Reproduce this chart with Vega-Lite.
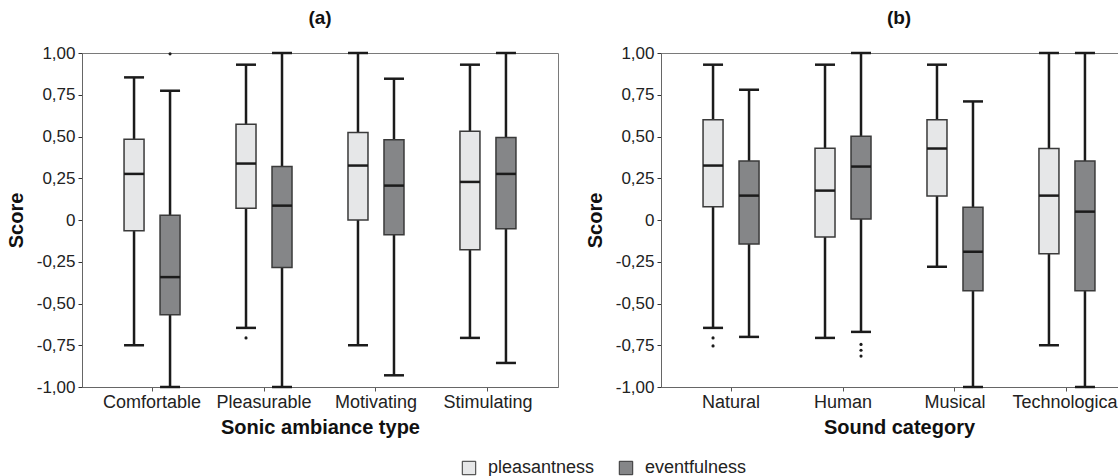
{
  "$schema": "https://vega.github.io/schema/vega-lite/v6.json",
  "padding": {"left": 5, "top": 8, "right": 5, "bottom": 4},
  "datasets": {
    "box_a": [
      {"category": "Comfortable", "measure": "pleasantness", "min": -0.75, "q1": -0.065, "median": 0.276, "q3": 0.484, "max": 0.854},
      {"category": "Comfortable", "measure": "eventfulness", "min": -1.0, "q1": -0.568, "median": -0.342, "q3": 0.028, "max": 0.774},
      {"category": "Pleasurable", "measure": "pleasantness", "min": -0.646, "q1": 0.07, "median": 0.338, "q3": 0.574, "max": 0.93},
      {"category": "Pleasurable", "measure": "eventfulness", "min": -1.0, "q1": -0.284, "median": 0.086, "q3": 0.32, "max": 1.0},
      {"category": "Motivating", "measure": "pleasantness", "min": -0.75, "q1": 0.0, "median": 0.326, "q3": 0.524, "max": 1.0},
      {"category": "Motivating", "measure": "eventfulness", "min": -0.93, "q1": -0.088, "median": 0.206, "q3": 0.48, "max": 0.846},
      {"category": "Stimulating", "measure": "pleasantness", "min": -0.706, "q1": -0.178, "median": 0.228, "q3": 0.532, "max": 0.93},
      {"category": "Stimulating", "measure": "eventfulness", "min": -0.856, "q1": -0.052, "median": 0.276, "q3": 0.494, "max": 1.0}
    ],
    "out_a": [
      {"category": "Comfortable", "measure": "eventfulness", "value": 0.995},
      {"category": "Pleasurable", "measure": "pleasantness", "value": -0.706}
    ],
    "box_b": [
      {"category": "Natural", "measure": "pleasantness", "min": -0.646, "q1": 0.08, "median": 0.326, "q3": 0.6, "max": 0.93},
      {"category": "Natural", "measure": "eventfulness", "min": -0.7, "q1": -0.144, "median": 0.146, "q3": 0.354, "max": 0.78},
      {"category": "Human", "measure": "pleasantness", "min": -0.706, "q1": -0.102, "median": 0.176, "q3": 0.43, "max": 0.93},
      {"category": "Human", "measure": "eventfulness", "min": -0.67, "q1": 0.006, "median": 0.32, "q3": 0.502, "max": 1.0},
      {"category": "Musical", "measure": "pleasantness", "min": -0.28, "q1": 0.144, "median": 0.428, "q3": 0.6, "max": 0.93},
      {"category": "Musical", "measure": "eventfulness", "min": -1.0, "q1": -0.424, "median": -0.19, "q3": 0.076, "max": 0.71},
      {"category": "Technological", "measure": "pleasantness", "min": -0.75, "q1": -0.202, "median": 0.146, "q3": 0.428, "max": 1.0},
      {"category": "Technological", "measure": "eventfulness", "min": -1.0, "q1": -0.424, "median": 0.05, "q3": 0.354, "max": 1.0}
    ],
    "out_b": [
      {"category": "Natural", "measure": "pleasantness", "value": -0.706},
      {"category": "Natural", "measure": "pleasantness", "value": -0.754},
      {"category": "Human", "measure": "eventfulness", "value": -0.745},
      {"category": "Human", "measure": "eventfulness", "value": -0.78},
      {"category": "Human", "measure": "eventfulness", "value": -0.815}
    ]
  },
  "config": {
    "font": "Liberation Sans",
    "view": {"stroke": "#7a7a7a", "strokeWidth": 1},
    "axis": {"grid": false, "domainColor": "#666666", "tickColor": "#555555", "labelColor": "#222222", "titleColor": "#111111", "labelFont": "Liberation Sans", "titleFont": "Liberation Sans", "titleFontWeight": "bold"},
    "axisX": {"labelFontSize": 18, "labelAngle": 0, "tickSize": 4, "labelPadding": 2, "titleFontSize": 20, "titlePadding": 6},
    "axisY": {"labelFontSize": 17, "tickSize": 4, "labelPadding": 3, "titleFontSize": 20, "titlePadding": 10, "tickColor": "#333333"},
    "title": {"fontSize": 19, "fontWeight": "bold", "offset": 16, "color": "#111111", "font": "Liberation Sans"},
    "concat": {"spacing": 25}
  },
  "hconcat": [
    {
      "width": 476,
      "height": 334,
      "title": "(a)",
      "data": {"name": "box_a"},
      "encoding": {
        "x": {"field": "category", "type": "nominal", "sort": ["Comfortable", "Pleasurable", "Motivating", "Stimulating"], "title": "Sonic ambiance type", "scale": {"paddingInner": 0.357, "paddingOuter": 0.304}},
        "xOffset": {"field": "measure", "type": "nominal", "sort": ["pleasantness", "eventfulness"], "scale": {"paddingInner": 0, "paddingOuter": 0}}
      },
      "layer": [
        {"mark": {"type": "rule", "strokeWidth": 2.5, "color": "#1b1b1b", "opacity": 1},
         "encoding": {"y": {"field": "min", "type": "quantitative", "title": "Score", "scale": {"domain": [-1, 1], "nice": false, "zero": false}, "axis": {"values": [-1, -0.75, -0.5, -0.25, 0, 0.25, 0.5, 0.75, 1], "labelExpr": "datum.value == 0 ? '0' : (datum.value < 0 ? '-' : '') + replace(format(abs(datum.value), '.2f'), '.', ',')"}}, "y2": {"field": "max"}}},
        {"mark": {"type": "tick", "size": 20, "thickness": 2.5, "color": "#1b1b1b", "opacity": 1},
         "encoding": {"y": {"field": "min", "type": "quantitative"}}},
        {"mark": {"type": "tick", "size": 20, "thickness": 2.5, "color": "#1b1b1b", "opacity": 1},
         "encoding": {"y": {"field": "max", "type": "quantitative"}}},
        {"mark": {"type": "bar", "width": 20, "stroke": "#3a3a3a", "strokeWidth": 1.5, "opacity": 1},
         "encoding": {"y": {"field": "q1", "type": "quantitative"}, "y2": {"field": "q3"},
           "color": {"field": "measure", "type": "nominal", "scale": {"domain": ["pleasantness", "eventfulness"], "range": ["#e6e7e8", "#858688"]},
             "legend": {"title": null, "orient": "none", "legendX": 378, "legendY": 406, "direction": "horizontal", "symbolType": "square", "symbolSize": 180, "labelFontSize": 18, "labelOffset": 10, "columnPadding": 22, "symbolStrokeColor": "#333333", "symbolStrokeWidth": 1, "labelColor": "#222222", "symbolOpacity": 1,
               "encode": {"symbols": {"update": {"stroke": {"value": "#333333"}, "strokeWidth": {"value": 1}}}}}}}},
        {"mark": {"type": "tick", "size": 20, "thickness": 2.5, "color": "#1b1b1b", "opacity": 1},
         "encoding": {"y": {"field": "median", "type": "quantitative"}}},
        {"data": {"name": "out_a"}, "mark": {"type": "point", "filled": true, "size": 10, "color": "#1b1b1b", "opacity": 1},
         "encoding": {"y": {"field": "value", "type": "quantitative"}}}
      ]
    },
    {
      "width": 476,
      "height": 334,
      "title": "(b)",
      "data": {"name": "box_b"},
      "encoding": {
        "x": {"field": "category", "type": "nominal", "sort": ["Natural", "Human", "Musical", "Technological"], "title": "Sound category", "scale": {"paddingInner": 0.357, "paddingOuter": 0.304}},
        "xOffset": {"field": "measure", "type": "nominal", "sort": ["pleasantness", "eventfulness"], "scale": {"paddingInner": 0, "paddingOuter": 0}}
      },
      "layer": [
        {"mark": {"type": "rule", "strokeWidth": 2.5, "color": "#1b1b1b", "opacity": 1},
         "encoding": {"y": {"field": "min", "type": "quantitative", "title": "Score", "scale": {"domain": [-1, 1], "nice": false, "zero": false}, "axis": {"values": [-1, -0.75, -0.5, -0.25, 0, 0.25, 0.5, 0.75, 1], "labelExpr": "datum.value == 0 ? '0' : (datum.value < 0 ? '-' : '') + replace(format(abs(datum.value), '.2f'), '.', ',')"}}, "y2": {"field": "max"}}},
        {"mark": {"type": "tick", "size": 20, "thickness": 2.5, "color": "#1b1b1b", "opacity": 1},
         "encoding": {"y": {"field": "min", "type": "quantitative"}}},
        {"mark": {"type": "tick", "size": 20, "thickness": 2.5, "color": "#1b1b1b", "opacity": 1},
         "encoding": {"y": {"field": "max", "type": "quantitative"}}},
        {"mark": {"type": "bar", "width": 20, "stroke": "#3a3a3a", "strokeWidth": 1.5, "opacity": 1},
         "encoding": {"y": {"field": "q1", "type": "quantitative"}, "y2": {"field": "q3"},
           "color": {"field": "measure", "type": "nominal", "scale": {"domain": ["pleasantness", "eventfulness"], "range": ["#e6e7e8", "#858688"]}}}},
        {"mark": {"type": "tick", "size": 20, "thickness": 2.5, "color": "#1b1b1b", "opacity": 1},
         "encoding": {"y": {"field": "median", "type": "quantitative"}}},
        {"data": {"name": "out_b"}, "mark": {"type": "point", "filled": true, "size": 10, "color": "#1b1b1b", "opacity": 1},
         "encoding": {"y": {"field": "value", "type": "quantitative"}}}
      ]
    }
  ]
}
